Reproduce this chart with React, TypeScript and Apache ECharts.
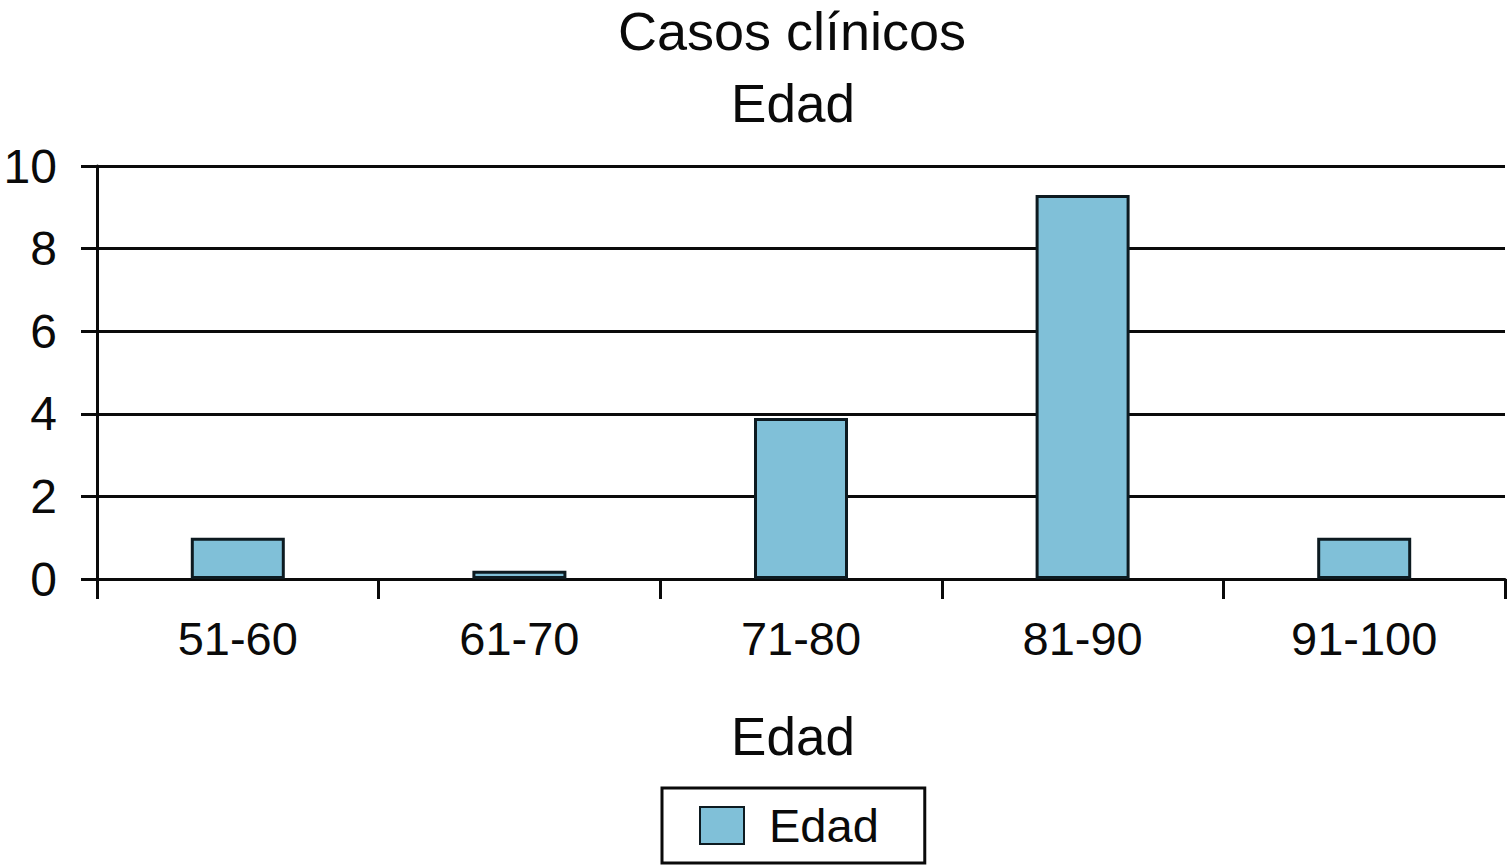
import React, { useEffect, useRef } from "react";
import * as echarts from "echarts";

const categories = ["51-60", "61-70", "71-80", "81-90", "91-100"];
const values = [1, 0.2, 3.9, 9.3, 1];
const seriesName = "Edad";
const titleLines = ["Casos clínicos", "Edad"];
const xAxisName = "Edad";

const FONT = "'Liberation Sans', Arial, Helvetica, sans-serif";

export default function App() {
  const ref = useRef<HTMLDivElement>(null);
  useEffect(() => {
    if (!ref.current) return;
    const chart = echarts.init(ref.current, undefined, { renderer: "svg" });
    chart.setOption({
      animation: false,
      backgroundColor: "#ffffff",
      textStyle: { fontFamily: FONT, color: "#0a0a0a" },
      title: [
        {
          text: titleLines[0],
          left: 792,
          top: 4,
          textAlign: "center",
          padding: 0,
          textStyle: { fontSize: 54, fontWeight: "normal", color: "#0a0a0a", fontFamily: FONT, lineHeight: 54 },
        },
        {
          text: titleLines[1],
          left: 793,
          top: 77,
          textAlign: "center",
          padding: 0,
          textStyle: { fontSize: 53, fontWeight: "normal", color: "#0a0a0a", fontFamily: FONT, lineHeight: 53 },
        },
      ],
      legend: {
        data: [seriesName],
        left: 662,
        top: 788,
        orient: "horizontal",
        padding: [14, 46, 14, 37],
        itemWidth: 44,
        itemHeight: 37,
        icon: "rect",
        borderColor: "#0a0a0a",
        borderWidth: 3,
        textStyle: { fontSize: 47, lineHeight: 46, color: "#0a0a0a", fontFamily: FONT, padding: [0, 0, 0, 20] },
      },
      grid: { left: 97, right: 2, top: 166, bottom: 287, containLabel: false },
      xAxis: {
        type: "category",
        data: categories,
        name: xAxisName,
        nameLocation: "middle",
        nameGap: 131,
        nameTextStyle: { fontSize: 53, color: "#0a0a0a", fontFamily: FONT, padding: [0, 16, 0, 0] },
        axisLine: { show: true, lineStyle: { color: "#0a0a0a", width: 3 } },
        axisTick: { show: true, length: 20, lineStyle: { color: "#0a0a0a", width: 3 } },
        axisLabel: { fontSize: 47, color: "#0a0a0a", margin: 36, fontFamily: FONT },
        splitLine: { show: false },
      },
      yAxis: {
        type: "value",
        min: 0,
        max: 10,
        interval: 2,
        axisLine: { show: true, lineStyle: { color: "#0a0a0a", width: 3 } },
        axisTick: { show: true, length: 16, lineStyle: { color: "#0a0a0a", width: 3 } },
        axisLabel: { fontSize: 48, color: "#0a0a0a", margin: 40, fontFamily: FONT },
        splitLine: { show: true, lineStyle: { color: "#0a0a0a", width: 3 } },
      },
      series: [
        {
          name: seriesName,
          type: "bar",
          data: values,
          barWidth: 94,
          itemStyle: { color: "#80c0d8", borderColor: "#0d1a20", borderWidth: 3 },
        },
      ],
    });
    return () => chart.dispose();
  }, []);
  return (
    <div
      ref={ref}
      style={{ position: "fixed", left: 0, top: 0, width: 1507, height: 866, background: "#fff" }}
    />
  );
}
